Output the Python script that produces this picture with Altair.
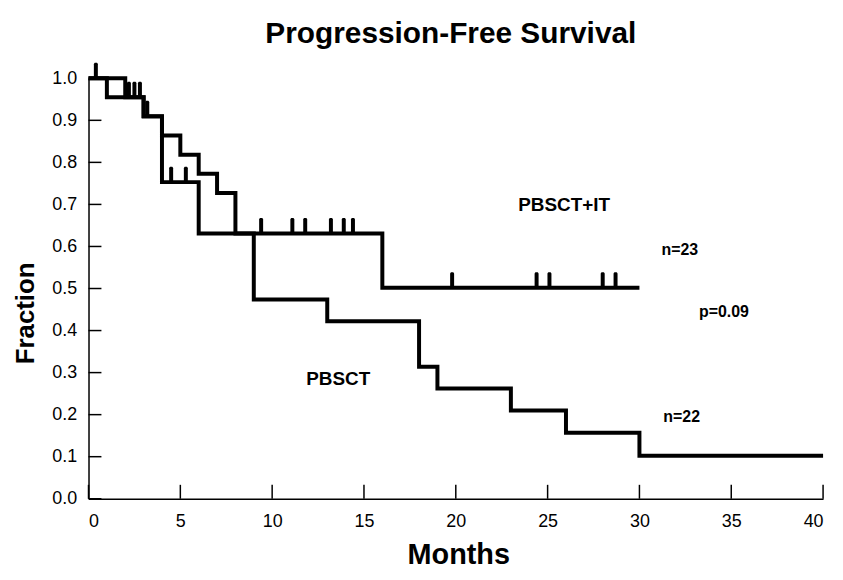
import altair as alt
import pandas as pd

# Kaplan-Meier step curves (months, fraction)
pbsct_it_t = [0, 1, 3, 4, 6, 16, 30]
pbsct_it_s = [1.0, 0.955, 0.91, 0.753, 0.631, 0.502, 0.502]
pbsct_t = [0, 2, 3, 4, 5, 6, 7, 8, 9, 13, 18, 19, 23, 26, 30, 40]
pbsct_s = [1.0, 0.955, 0.909, 0.864, 0.818, 0.773, 0.727, 0.631, 0.474,
           0.422, 0.314, 0.262, 0.21, 0.157, 0.102, 0.102]

# censored observations (PBSCT+IT)
cens_t = [0.4, 2.2, 2.5, 2.8, 3.2, 4.5, 5.3, 9.4, 11.1, 11.8, 13.2, 13.9,
          14.4, 19.8, 24.4, 25.1, 28.0, 28.7]
cens_s = [1.0, 0.955, 0.955, 0.955, 0.91, 0.753, 0.753, 0.631, 0.631, 0.631,
          0.631, 0.631, 0.631, 0.502, 0.502, 0.502, 0.502, 0.502]

# axis ticks
x_ticks = [0, 5, 10, 15, 20, 25, 30, 35, 40]
y_ticks = [0.0, 0.1, 0.2, 0.3, 0.4, 0.5, 0.6, 0.7, 0.8, 0.9, 1.0]

# annotations
big_labels = ["PBSCT+IT", "PBSCT"]
big_t = [25.9, 13.6]
big_s = [0.698, 0.285]
small_labels = ["n=23", "p=0.09", "n=22"]
small_t = [32.2, 34.6, 32.3]
small_s = [0.592, 0.443, 0.194]

curves = pd.concat([
    pd.DataFrame({"t": pbsct_it_t, "s": pbsct_it_s, "g": "PBSCT+IT"}),
    pd.DataFrame({"t": pbsct_t, "s": pbsct_s, "g": "PBSCT"}),
])
cens = pd.DataFrame({"t": cens_t, "s": cens_s})
xt = pd.DataFrame({"t": x_ticks, "s": [0.0] * len(x_ticks)})
yt = pd.DataFrame({"t": [0.0] * len(y_ticks), "s": y_ticks})
big = pd.DataFrame({"t": big_t, "s": big_s, "label": big_labels})
small = pd.DataFrame({"t": small_t, "s": small_s, "label": small_labels})

FONT = "Liberation Sans"
xscale = alt.Scale(domain=[0, 40], nice=False, zero=False)
yscale = alt.Scale(domain=[0, 1], nice=False)
xaxis = alt.Axis(values=x_ticks, tickSize=0, labelPadding=14, labelFontSize=18,
                 labelFont=FONT, labelColor="black", domainColor="black",
                 domainWidth=1.5, grid=False, title="Months", titleFont=FONT,
                 titleFontSize=29, titleFontWeight="bold", titleColor="black",
                 titleX=372, titleY=65, titleBaseline="alphabetic")
yaxis = alt.Axis(values=y_ticks, format=".1f", tickSize=0, labelPadding=12,
                 labelFontSize=18, labelFont=FONT, labelColor="black",
                 domainColor="black", domainWidth=1.5, grid=False,
                 title="Fraction", titleFont=FONT, titleFontSize=26,
                 titleFontWeight="bold", titleColor="black", titleAngle=270,
                 titleX=-55, titleY=236, titleBaseline="alphabetic")

X = lambda: alt.X("t:Q", scale=xscale, axis=xaxis)
Y = lambda: alt.Y("s:Q", scale=yscale, axis=yaxis)

lines = alt.Chart(curves).mark_line(
    interpolate="step-after", strokeWidth=4, color="black", strokeJoin="miter"
).encode(x=X(), y=Y(), detail="g:N")

cens_marks = alt.Chart(cens).mark_tick(
    orient="vertical", size=16, thickness=4, color="black", opacity=1,
    yOffset=-7.5, cornerRadius=1.5
).encode(x=X(), y=Y())

xtick_marks = alt.Chart(xt).mark_tick(
    orient="vertical", size=14, thickness=1.5, color="black", opacity=1, yOffset=-7
).encode(x=X(), y=Y())

ytick_marks = alt.Chart(yt).mark_tick(
    orient="horizontal", size=13, thickness=1.5, color="black", opacity=1, xOffset=6.5
).encode(x=X(), y=Y())

big_text = alt.Chart(big).mark_text(
    font=FONT, fontSize=19, fontWeight="bold", color="black", align="center", baseline="middle"
).encode(x=X(), y=Y(), text="label:N")

small_text = alt.Chart(small).mark_text(
    font=FONT, fontSize=16, fontWeight="bold", color="black", align="center", baseline="middle"
).encode(x=X(), y=Y(), text="label:N")

chart = alt.layer(lines, cens_marks, xtick_marks, ytick_marks, big_text, small_text).properties(
    width=739, height=423,
    title=alt.TitleParams("Progression-Free Survival", font=FONT, fontSize=30,
                          fontWeight="bold", color="black", anchor="middle",
                          dx=-5, offset=14),
    autosize=alt.AutoSizeParams(type="none"),
    padding={"left": 81, "top": 69, "right": 12, "bottom": 72},
).configure_view(stroke=None)

chart.save("out.html", embed_options={"renderer": "svg", "actions": False})
